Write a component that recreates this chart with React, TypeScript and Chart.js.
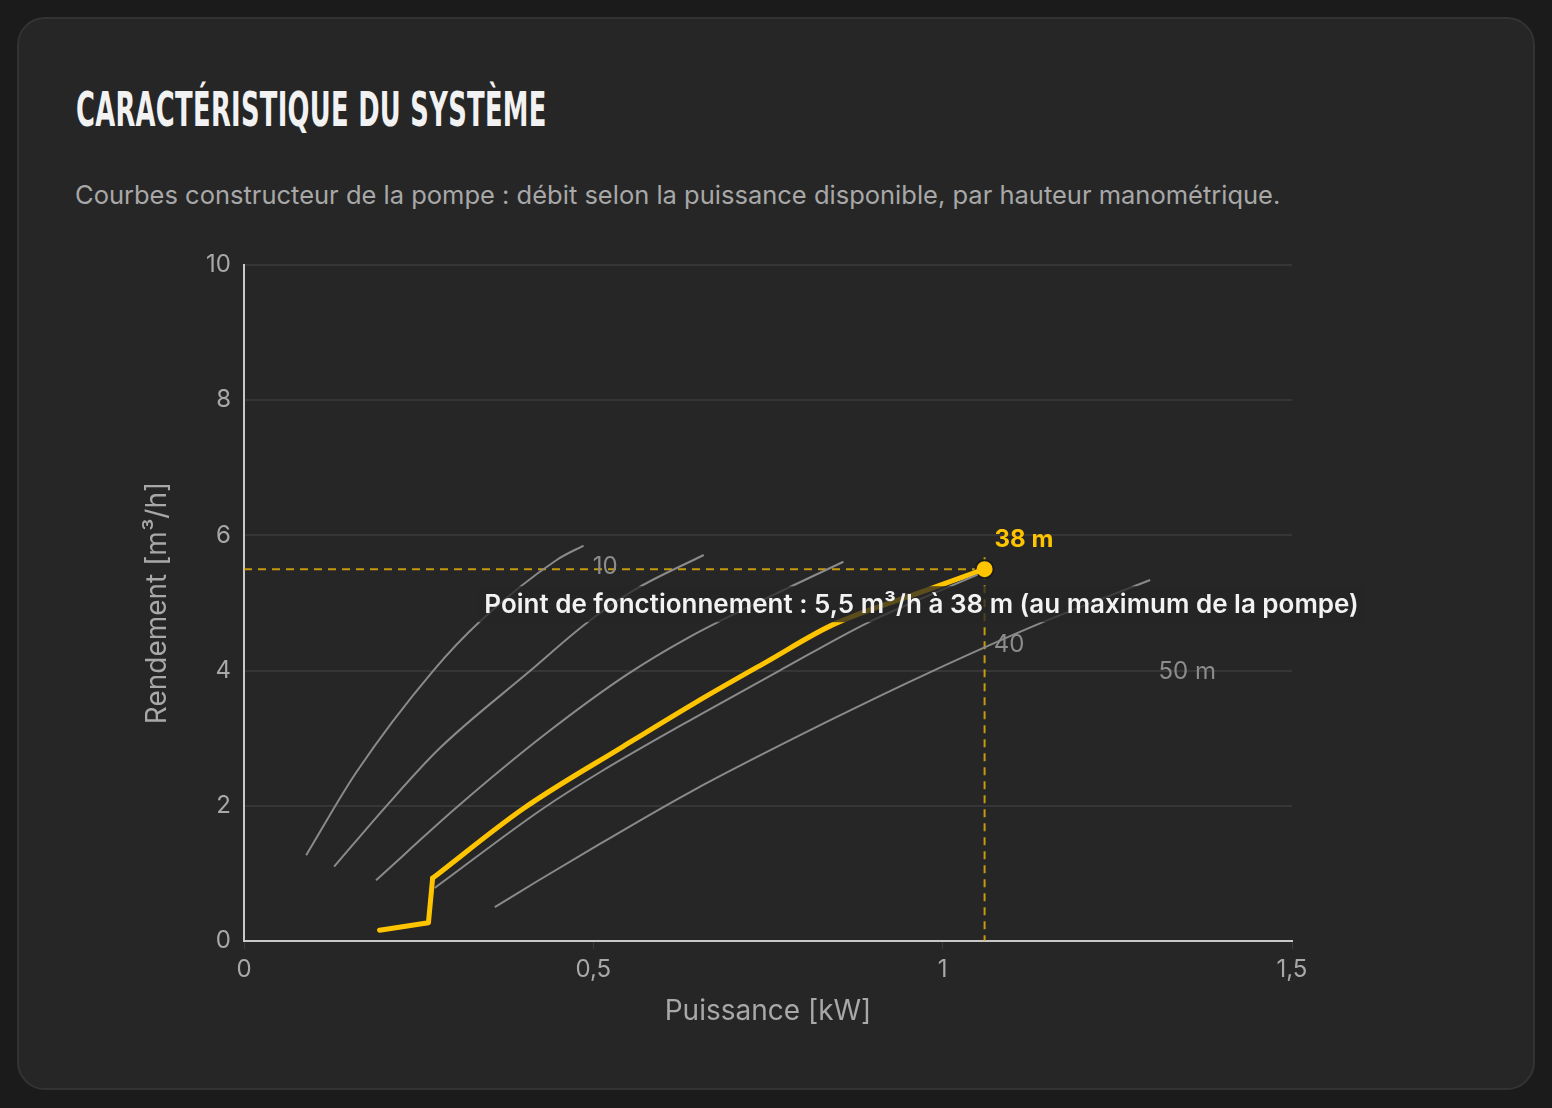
import { useEffect, useLayoutEffect, useRef } from "react"
import { Chart, registerables } from "chart.js"

Chart.register(...registerables)

// Courbes constructeur : puissance [kW] -> débit [m³/h], par hauteur manométrique
const headNames = ["10 m", "20 m", "30 m", "40 m", "50 m"]

const power10 = [0.089, 0.161, 0.271, 0.338, 0.448, 0.486]
const flow10 = [1.27, 2.5, 4.0, 4.73, 5.64, 5.85]

const power20 = [0.129, 0.204, 0.28, 0.41, 0.49, 0.56, 0.658]
const flow20 = [1.1, 2.0, 2.85, 4.0, 4.7, 5.2, 5.71]

const power30 = [0.189, 0.307, 0.43, 0.548, 0.638, 0.76, 0.858]
const flow30 = [0.9, 2.0, 3.05, 3.94, 4.5, 5.13, 5.61]

const power40 = [0.273, 0.428, 0.51, 0.653, 0.77, 0.891, 0.982, 1.05]
const flow40 = [0.785, 1.96, 2.5, 3.35, 4.02, 4.7, 5.12, 5.42]

const power50 = [0.359, 0.419, 0.51, 0.638, 0.834, 0.987, 1.135, 1.297]
const flow50 = [0.5, 0.88, 1.44, 2.2, 3.24, 4.0, 4.68, 5.34]

// courbe du système (38 m) : démarrage puis courbe
const systemPower = [0.194, 0.264, 0.27, 0.4, 0.543, 0.645, 0.748, 0.843, 0.977, 1.06]
const systemFlow = [0.16, 0.27, 0.93, 1.96, 2.88, 3.52, 4.13, 4.68, 5.19, 5.5]
const systemStartCount = 3

// point de fonctionnement
const opPower = 1.06
const opFlow = 5.5
const opHead = 38

// étiquettes des courbes visibles
const curveLabelText = ["10", "40", "50 m"]
const curveLabelPower = [0.517, 1.095, 1.35]
const curveLabelFlow = [5.53, 4.385, 3.985]

const xTicks = [0, 0.5, 1, 1.5]
const yTicks = [0, 2, 4, 6, 8, 10]

const YELLOW = "#FFC400"
const GREY = "#8a8a8a"

const toPoints = (xs: number[], ys: number[]) => xs.map((x, i) => ({ x, y: ys[i] }))
const frNumber = (v: number) => String(v).replace(".", ",")

const overlayPlugin = {
    id: "overlay",
    beforeDatasetsDraw(chart: any) {
        const { ctx, scales } = chart
        const x = scales.x
        const y = scales.y
        const px = x.getPixelForValue(opPower)
        const py = y.getPixelForValue(opFlow)
        ctx.save()
        ctx.strokeStyle = "rgba(225,175,10,0.85)"
        ctx.lineWidth = 2
        ctx.setLineDash([8, 6])
        ctx.beginPath()
        ctx.moveTo(x.left, py)
        ctx.lineTo(px + 12, py)
        ctx.moveTo(px, py - 12)
        ctx.lineTo(px, y.bottom)
        ctx.stroke()
        ctx.restore()
    },
    afterDatasetsDraw(chart: any) {
        const { ctx, scales } = chart
        const x = scales.x
        const y = scales.y
        ctx.save()

        // étiquettes des courbes
        ctx.font = "24px Inter"
        ctx.fillStyle = "#8c8c8c"
        ctx.textAlign = "center"
        ctx.textBaseline = "middle"
        curveLabelText.forEach((t, i) => {
            ctx.fillText(t, x.getPixelForValue(curveLabelPower[i]), y.getPixelForValue(curveLabelFlow[i]))
        })

        const px = x.getPixelForValue(opPower)
        const py = y.getPixelForValue(opFlow)

        // hauteur du point
        ctx.font = "bold 24px Inter"
        ctx.fillStyle = YELLOW
        ctx.textAlign = "left"
        ctx.fillText(`${opHead} m`, px + 10, py - 29)

        // annotation
        const text = `Point de fonctionnement : ${frNumber(opFlow)} m³/h à ${opHead} m (au maximum de la pompe)`
        ctx.font = "600 26px Inter"
        const w = ctx.measureText(text).width
        const cx = px - 63
        const cy = py + 35
        ctx.fillStyle = "rgba(38,38,38,0.75)"
        ctx.fillRect(cx - w / 2 - 6, cy - 18, w + 12, 36)
        ctx.fillStyle = "#f2f2f2"
        ctx.textAlign = "center"
        ctx.fillText(text, cx, cy + 1)

        ctx.restore()
    },
}

function PumpChart() {
    const chartRef = useRef<HTMLCanvasElement>(null)
    const chartInstance = useRef<Chart | null>(null)

    useEffect(() => {
        if (!chartRef.current) return
        const ctx = chartRef.current.getContext("2d")
        if (!ctx) return

        if (chartInstance.current) {
            chartInstance.current.destroy()
        }

        Chart.defaults.font.family = "Inter"
        Chart.defaults.color = "#a8a8a8"

        const greyCurve = (label: string, xs: number[], ys: number[]) => ({
            label,
            data: toPoints(xs, ys),
            showLine: true,
            borderColor: GREY,
            borderWidth: 2,
            pointRadius: 0,
            cubicInterpolationMode: "monotone" as const,
        })

        const systemPoints = toPoints(systemPower, systemFlow)
        const yellowStyle = {
            showLine: true,
            borderColor: YELLOW,
            borderWidth: 5,
            borderCapStyle: "round" as const,
            borderJoinStyle: "round" as const,
            pointRadius: 0,
        }

        chartInstance.current = new Chart(ctx, {
            type: "scatter",
            data: {
                datasets: [
                    greyCurve(headNames[0], power10, flow10),
                    greyCurve(headNames[1], power20, flow20),
                    greyCurve(headNames[2], power30, flow30),
                    greyCurve(headNames[3], power40, flow40),
                    greyCurve(headNames[4], power50, flow50),
                    {
                        ...yellowStyle,
                        label: `${opHead} m (démarrage)`,
                        data: systemPoints.slice(0, systemStartCount),
                        tension: 0,
                    },
                    {
                        ...yellowStyle,
                        label: `${opHead} m`,
                        data: systemPoints.slice(systemStartCount - 1),
                        cubicInterpolationMode: "monotone",
                    },
                    {
                        label: "Point de fonctionnement",
                        data: [{ x: opPower, y: opFlow }],
                        pointRadius: 9,
                        backgroundColor: YELLOW,
                        borderColor: "#1c1c1c",
                        borderWidth: 2,
                    },
                ],
            },
            options: {
                animation: false,
                responsive: true,
                maintainAspectRatio: false,
                layout: { padding: { left: 0, right: 184, top: 28, bottom: 0 } },
                plugins: {
                    legend: { display: false },
                    tooltip: { enabled: false },
                },
                scales: {
                    x: {
                        type: "linear",
                        min: 0,
                        max: 1.5,
                        afterBuildTicks: (scale: any) => {
                            scale.ticks = xTicks.map((value) => ({ value }))
                        },
                        afterFit: (scale: any) => {
                            scale.height = 106
                        },
                        ticks: {
                            padding: 6,
                            font: { size: 24 },
                            color: "#a8a8a8",
                            callback: (value: any) => frNumber(Number(value)),
                        },
                        grid: {
                            display: true,
                            drawOnChartArea: false,
                            drawTicks: true,
                            tickLength: 8,
                            color: "#3a3a3a",
                        },
                        border: { display: true, color: "#c8c8c8", width: 2 },
                        title: {
                            display: true,
                            text: "Puissance [kW]",
                            font: { size: 28 },
                            color: "#a8a8a8",
                            padding: { top: 0, bottom: 19 },
                        },
                    },
                    y: {
                        type: "linear",
                        min: 0,
                        max: 10,
                        afterBuildTicks: (scale: any) => {
                            scale.ticks = yTicks.map((value) => ({ value }))
                        },
                        afterFit: (scale: any) => {
                            scale.width = 168
                        },
                        ticks: {
                            padding: 13,
                            font: { size: 24 },
                            color: "#a8a8a8",
                        },
                        grid: {
                            color: "#363636",
                            lineWidth: 2,
                            drawTicks: false,
                        },
                        border: { display: true, color: "#c8c8c8", width: 2 },
                        title: {
                            display: true,
                            text: "Rendement [m³/h]",
                            font: { size: 28 },
                            color: "#a8a8a8",
                            padding: { top: 65, bottom: 0 },
                        },
                    },
                },
            },
            plugins: [overlayPlugin],
        })

        return () => {
            if (chartInstance.current) {
                chartInstance.current.destroy()
                chartInstance.current = null
            }
        }
    }, [])

    return (
        <div style={{ position: "absolute", left: 57, top: 218, width: 1400, height: 810 }}>
            <canvas ref={chartRef}></canvas>
        </div>
    )
}

export default function App() {
    const titleRef = useRef<HTMLSpanElement>(null)

    // le titre est étiré pour imiter une police condensée
    useLayoutEffect(() => {
        const el = titleRef.current
        if (!el) return
        const w = el.offsetWidth
        if (w > 0) el.style.transform = `scaleX(${471 / w})`
    }, [])

    return (
        <div style={{ position: "fixed", inset: 0, background: "#1b1b1b" }}>
            <div
                style={{
                    position: "absolute",
                    left: 17,
                    top: 17,
                    width: 1518,
                    height: 1073,
                    boxSizing: "border-box",
                    background: "#262626",
                    border: "2px solid #333333",
                    borderRadius: 28,
                }}
            >
                <span
                    ref={titleRef}
                    style={{
                        position: "absolute",
                        left: 57,
                        top: 66,
                        display: "inline-block",
                        transformOrigin: "left center",
                        whiteSpace: "nowrap",
                        fontFamily: "'Liberation Sans Narrow', 'DejaVu Sans Condensed', sans-serif",
                        fontWeight: 700,
                        fontSize: 48,
                        lineHeight: "48px",
                        color: "#f2f2f2",
                        letterSpacing: 0.5,
                    }}
                >
                    CARACTÉRISTIQUE DU SYSTÈME
                </span>
                <div
                    style={{
                        position: "absolute",
                        left: 56,
                        top: 161,
                        fontFamily: "Inter, sans-serif",
                        fontSize: 25.5,
                        lineHeight: "30px",
                        color: "#a8a8a8",
                        whiteSpace: "nowrap",
                    }}
                >
                    Courbes constructeur de la pompe : débit selon la puissance disponible, par hauteur manométrique.
                </div>
                <PumpChart />
            </div>
        </div>
    )
}
